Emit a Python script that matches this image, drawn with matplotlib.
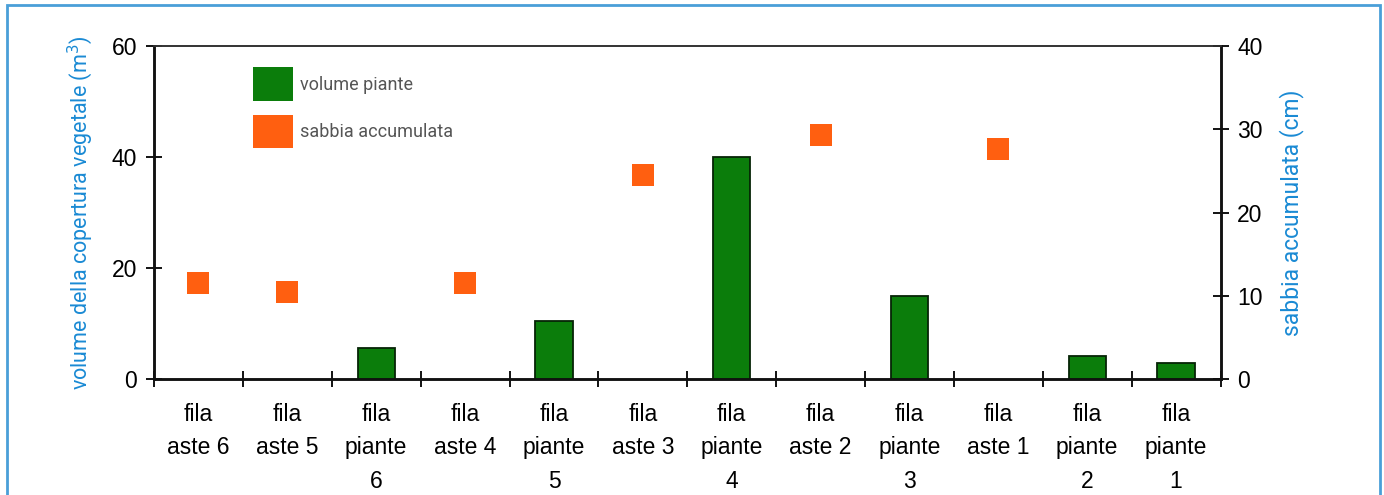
import matplotlib

matplotlib.use("Agg")
import matplotlib.pyplot as plt
import numpy as np
from matplotlib.patches import Patch, Rectangle

categories = [
    "fila\naste 6", "fila\naste 5", "fila\npiante\n6", "fila\naste 4",
    "fila\npiante\n5", "fila\naste 3", "fila\npiante\n4", "fila\naste 2",
    "fila\npiante\n3", "fila\naste 1", "fila\npiante\n2", "fila\npiante\n1",
]
# volume piante (m3), left axis; None where there is no bar
plant_volume = [None, None, 5.6, None, 10.5, None, 40.0, None, 15.0, None, 4.1, 2.9]
# sabbia accumulata (cm), right axis
sand = [11.5, 10.5, None, 11.5, None, 24.5, None, 29.3, None, 27.6, None, None]

green = "#0b7d0b"
orange = "#ff5f10"
blue = "#1a8ad4"
label_font = ["Roboto", "DejaVu Sans"]

plt.rcParams["font.family"] = ["Liberation Sans", "DejaVu Sans"]

fig = plt.figure(figsize=(13.84, 4.95), dpi=100)
ax = fig.add_axes([0.1113, 0.2343, 0.7706, 0.6728])
ax2 = ax.twinx()

x = np.arange(len(categories))
bar_x = [i for i, v in enumerate(plant_volume) if v is not None]
bar_h = [v for v in plant_volume if v is not None]
ax.bar(bar_x, bar_h, width=0.42, color=green, edgecolor="#062406", linewidth=1.3, zorder=3)

sq_x = [i for i, v in enumerate(sand) if v is not None]
sq_y = [v for v in sand if v is not None]
ax2.plot(sq_x, sq_y, linestyle="none", marker="s", markersize=16.5,
         color=orange, markeredgewidth=0, zorder=4)

ax.set_xlim(-0.5, len(categories) - 0.5)
ax.set_ylim(0, 60)
ax2.set_ylim(0, 40)

ax.set_xticks(np.arange(-0.5, len(categories), 1.0))
ax.set_xticklabels([])
ax.set_xticks(x, minor=True)
ax.set_xticklabels(categories, minor=True, fontsize=16.5, linespacing=1.6, va="top")
ax.tick_params(axis="x", which="minor", length=0, pad=17)
ax.tick_params(axis="x", which="major", direction="inout", length=12, width=1.3)

ax.set_yticks([0, 20, 40, 60])
ax.tick_params(axis="y", direction="inout", length=12, width=1.3, labelsize=16.5, pad=6)
ax2.set_yticks([0, 10, 20, 30, 40])
ax2.tick_params(axis="y", direction="inout", length=12, width=1.3, labelsize=16.5, pad=6)

for a in (ax, ax2):
    for side in ("left", "right", "bottom"):
        a.spines[side].set_linewidth(1.8)
        a.spines[side].set_color("#111111")
    a.spines["top"].set_linewidth(1.2)
    a.spines["top"].set_color("#333333")

ax.set_ylabel("volume della copertura vegetale (m$^3$)", color=blue, fontsize=15.5,
              family=label_font, labelpad=12)
ax2.set_ylabel("sabbia accumulata (cm)", color=blue, fontsize=16.5,
               family=label_font, labelpad=12)

handles = [Patch(facecolor=green, edgecolor="none"), Patch(facecolor=orange, edgecolor="none")]
ax.legend(handles, ["volume piante", "sabbia accumulata"], loc="upper left",
          bbox_to_anchor=(0.078, 0.985), frameon=False, handlelength=2.2,
          handleheight=2.5, handletextpad=0.35, labelspacing=0.75,
          prop={"family": label_font, "size": 13}, labelcolor="#555555")

fig.patches.append(Rectangle((0.005, -0.05), 0.992, 1.04, transform=fig.transFigure,
                             fill=False, edgecolor="#4a9fd8", linewidth=2))

fig.savefig("out.png", dpi=100)
